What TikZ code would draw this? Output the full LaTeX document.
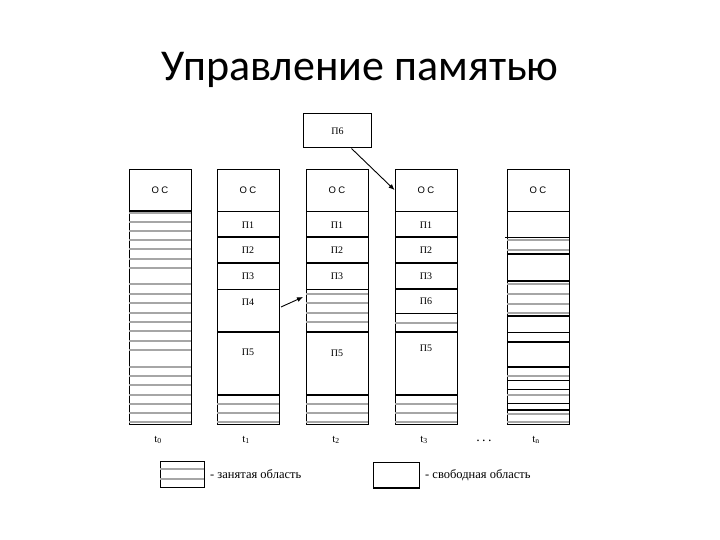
\documentclass[tikz,border=0pt]{standalone}
\usepackage{fontspec}
\setmainfont{Liberation Serif}
\newfontfamily\titlefont{Carlito}
\newfontfamily\osfont[LetterSpace=25]{Liberation Sans}
\usetikzlibrary{arrows.meta}

\begin{document}
\begin{tikzpicture}[x=1pt,y=-1pt,
  col/.style={draw,line width=0.9pt},
  busy/.style={draw=gray!70,line width=1.6pt},
  thinsep/.style={line width=0.6pt},
  thicksep/.style={line width=1.8pt},
  osreg/.style={draw,line width=0.9pt,minimum width=62pt,minimum height=42pt,inner sep=0pt,font=\osfont\fontsize{9.5}{10}\selectfont},
  plbl/.style={inner sep=0pt,font=\fontsize{10}{11}\selectfont},
  tlbl/.style={inner sep=0pt,font=\fontsize{11}{12}\selectfont},
  lgnd/.style={anchor=west,inner sep=0pt,font=\fontsize{12.5}{13}\selectfont},
  arr/.style={-{Latex[length=6pt,width=5pt]},line width=0.9pt}]
\useasboundingbox (0,0) rectangle (720,540);

\node[font=\titlefont\fontsize{44}{50}\selectfont] (title) at (360,70) {Управление памятью};

% memory columns
\foreach \x/\n in {129/0,217/1,306/2,395/3,507/4} {
   \draw[col] (\x,169) rectangle (\x+62,424);
   \node[osreg] (oc\n) at (\x+31,190) {ОС};
}
% busy areas
\foreach \y in {213,222,231,240,249,259,268,284,294,303,313,322,331,341,350,367,376,385,395,404,413,422} {
   \draw[busy] (129,\y) -- (191,\y);
}
\foreach \x/\ylist in {217/{404,413,422},306/{294,303,313,322,404,413,422},395/{323,404,413,422},507/{240,250,284,294,304,313,376,395,414,422}} {
   \foreach \y in \ylist {
      \draw[busy] (\x,\y) -- (\x+62,\y);
   }
}
% borders between programs
\draw[thicksep] (129,211) -- (191,211);
\foreach \x in {217,306} {
   \draw[thicksep] (\x,237) -- (\x+62,237) (\x,263) -- (\x+62,263)
      (\x,332) -- (\x+62,332) (\x,395) -- (\x+62,395);
   \draw[thinsep] (\x,289) -- (\x+62,289);
}
\draw[thicksep] (395,237) -- (457,237) (395,263) -- (457,263) (395,289) -- (457,289)
   (395,332) -- (457,332) (395,395) -- (457,395);
\draw[thinsep] (395,313) -- (457,313);
\draw[thinsep] (505,237) -- (569,237) (507,332) -- (569,332) (507,380) -- (569,380)
   (507,389) -- (569,389) (507,403) -- (569,403);
\draw[thicksep] (507,254) -- (569,254) (507,281) -- (569,281) (507,316) -- (569,316)
   (507,342) -- (569,342) (507,367) -- (569,367) (507,410) -- (569,410);

% programs
\foreach \x/\n in {248/1,337/2,426/3} {
   \node[plbl] (p1c\n) at (\x,225) {П1};
   \node[plbl] (p2c\n) at (\x,250) {П2};
   \node[plbl] (p3c\n) at (\x,276) {П3};
}
\node[plbl] (p4c1) at (248,302) {П4};
\node[plbl] (p6c3) at (426,301) {П6};
\node[plbl] (p5c1) at (248,352) {П5};
\node[plbl] (p5c2) at (337,353) {П5};
\node[plbl] (p5c3) at (426,348) {П5};
\node[draw,line width=1pt,minimum width=68pt,minimum height=34pt,inner sep=0pt,font=\fontsize{10}{11}\selectfont] (p6) at (337.5,131) {П6};

% moves
\coordinate (p4out) at (281,307);
\coordinate (p4in) at (303,297);
\draw[arr] (p4out) .. controls (290,303) .. (p4in);
\draw[arr] ([xshift=14pt]p6.south) -- (oc3.west);

% moments of time
\node[tlbl] (t0) at (158,440) {t\textsubscript{0}};
\node[tlbl] (t1) at (246,440) {t\textsubscript{1}};
\node[tlbl] (t2) at (336,440) {t\textsubscript{2}};
\node[tlbl] (t3) at (424,440) {t\textsubscript{3}};
\node[tlbl,font=\fontsize{14}{14}\selectfont] (dots) at (484,441) {.\,.\,.};
\node[tlbl] (tn) at (536,440) {t\textsubscript{n}};

% legend
\draw[col] (160,461) rectangle (204,487);
\draw[busy] (160,469) -- (204,469) (160,479) -- (204,479);
\node[lgnd] (lbusy) at (210,474) {- занятая область};
\draw[col] (373,462) rectangle (419,488);
\draw[thicksep] (373,488) -- (419,488);
\node[lgnd] (lfree) at (425,475) {- свободная область};
\end{tikzpicture}
\end{document}
